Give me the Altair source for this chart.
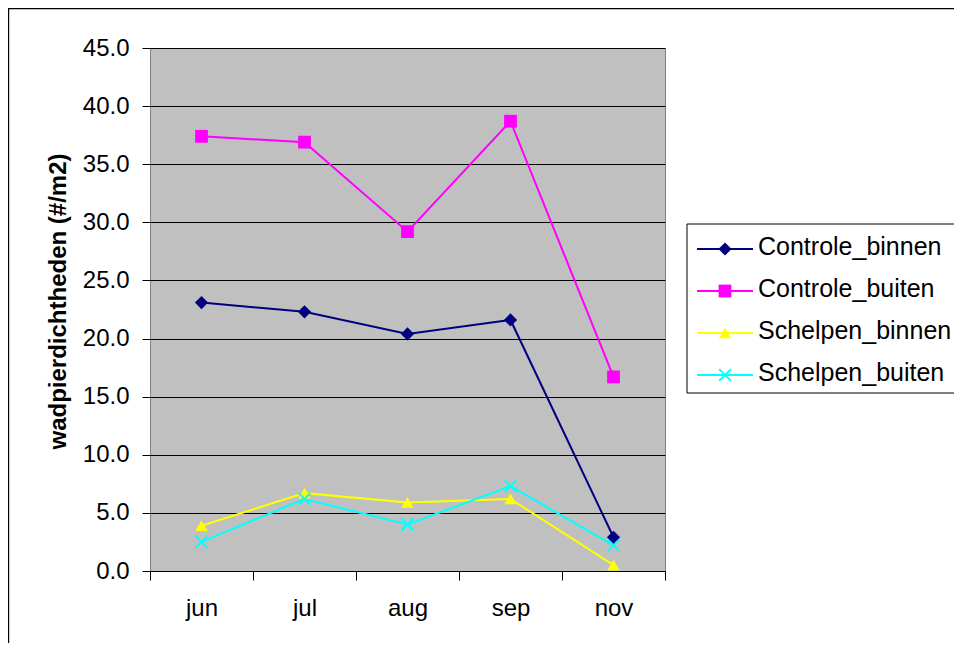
import altair as alt
import pandas as pd

months = ["jun", "jul", "aug", "sep", "nov"]
series_names = ["Controle_binnen", "Controle_buiten", "Schelpen_binnen", "Schelpen_buiten"]
controle_binnen = [23.1, 22.3, 20.4, 21.6, 2.9]
controle_buiten = [37.4, 36.9, 29.2, 38.7, 16.7]
schelpen_binnen = [3.9, 6.7, 5.9, 6.2, 0.5]
schelpen_buiten = [2.5, 6.2, 4.0, 7.3, 2.2]
y_ticks = [0, 5, 10, 15, 20, 25, 30, 35, 40, 45]

colors = ["#000080", "#FF00FF", "#FFFF00", "#00FFFF"]
shapes = ["diamond", "square", "triangle-up", "M-1,-1L1,1M1,-1L-1,1"]
marker_sizes = [175, 140, 200, 169]
XPATH = "M-1,-1L1,1M1,-1L-1,1"
FONT = "Liberation Sans"

rows = []
for name, vals in zip(series_names, [controle_binnen, controle_buiten, schelpen_binnen, schelpen_buiten]):
    for m, v in zip(months, vals):
        rows.append({"month": m, "series": name, "value": v})
df = pd.DataFrame(rows)
legend_df = pd.DataFrame({"series": series_names})
one = pd.DataFrame({"k": [0]})

color_scale = alt.Scale(domain=series_names, range=colors)
shape_scale = alt.Scale(domain=series_names, range=shapes)
size_scale = alt.Scale(domain=series_names, range=marker_sizes)
col = alt.Color("series:N", scale=color_scale, legend=None)
shp = alt.Shape("series:N", scale=shape_scale, legend=None)
siz = alt.Size("series:N", scale=size_scale, legend=None)

x_enc = alt.X(
    "month:N", sort=months,
    scale=alt.Scale(type="band", domain=months, paddingInner=0, paddingOuter=0),
    axis=alt.Axis(title=None, tickBand="extent", labelAngle=0, grid=False,
                  domainColor="black", tickColor="black", tickSize=9,
                  labelFont=FONT, labelFontSize=24, labelColor="black",
                  labelPadding=16),
)
y_enc = alt.Y(
    "value:Q",
    scale=alt.Scale(domain=[0, 45], nice=False, zero=True),
    axis=alt.Axis(values=y_ticks, format=".1f", grid=True, gridColor="black",
                  gridOpacity=1, gridWidth=1, domain=False, tickColor="black",
                  tickSize=8, labelFont=FONT, labelFontSize=24, labelColor="black",
                  labelPadding=13,
                  title="wadpierdichtheden (#/m2)", titleFont=FONT, titleFontSize=24,
                  titleFontWeight="bold", titleColor="black", titleAngle=270,
                  titleAlign="center", titleBaseline="middle", titleX=-92, titleY=253),
)

lines = alt.Chart(df).mark_line(strokeWidth=2).encode(x=x_enc, y=y_enc, color=col, detail="series:N")
pts = alt.Chart(df).transform_filter(
    alt.datum.series != "Schelpen_buiten"
).mark_point(filled=True, opacity=1).encode(x=x_enc, y=y_enc, color=col, shape=shp, size=siz)
crosses = alt.Chart(df).transform_filter(
    alt.datum.series == "Schelpen_buiten"
).mark_point(filled=False, opacity=1, strokeWidth=2, shape=XPATH).encode(
    x=x_enc, y=y_enc, color=col, size=siz)

main = alt.layer(lines, pts, crosses)

ly = alt.Y("series:N", sort=series_names,
           scale=alt.Scale(type="point", domain=series_names, range=[201, 327], padding=0),
           axis=None)

border = alt.Chart(one).mark_rect(fillOpacity=0, stroke="black", strokeWidth=1.2).encode(
    x=alt.value(-141.4), x2=alt.value(900), y=alt.value(-39.4), y2=alt.value(700))
box = alt.Chart(one).mark_rect(fill="white", stroke="black", strokeWidth=1).encode(
    x=alt.value(537), x2=alt.value(810), y=alt.value(176), y2=alt.value(345))
lrules = alt.Chart(legend_df).mark_rule(strokeWidth=2).encode(
    x=alt.value(547), x2=alt.value(603), y=ly, color=col)
lpts = alt.Chart(legend_df).transform_filter(
    alt.datum.series != "Schelpen_buiten"
).mark_point(filled=True, opacity=1).encode(x=alt.value(575), y=ly, color=col, shape=shp, size=siz)
lcross = alt.Chart(legend_df).transform_filter(
    alt.datum.series == "Schelpen_buiten"
).mark_point(filled=False, opacity=1, strokeWidth=2, shape=XPATH).encode(
    x=alt.value(575), y=ly, color=col, size=siz)
ltext = alt.Chart(legend_df).mark_text(align="left", baseline="middle", dy=-2.5,
                                       font=FONT, fontSize=25, color="black").encode(
    x=alt.value(608), y=ly, text="series:N")

legend = alt.layer(box, lrules, lpts, lcross, ltext)

chart = alt.layer(border, main, legend).resolve_scale(y="independent").properties(
    width=515, height=523,
    padding={"left": 142, "top": 40, "right": 289, "bottom": 72},
    autosize=alt.AutoSizeParams(type="none"),
    background="white",
).configure_view(fill="#C0C0C0", stroke="#808080", strokeWidth=1)

chart.save("out.html", embed_options={"renderer": "svg", "actions": False})
